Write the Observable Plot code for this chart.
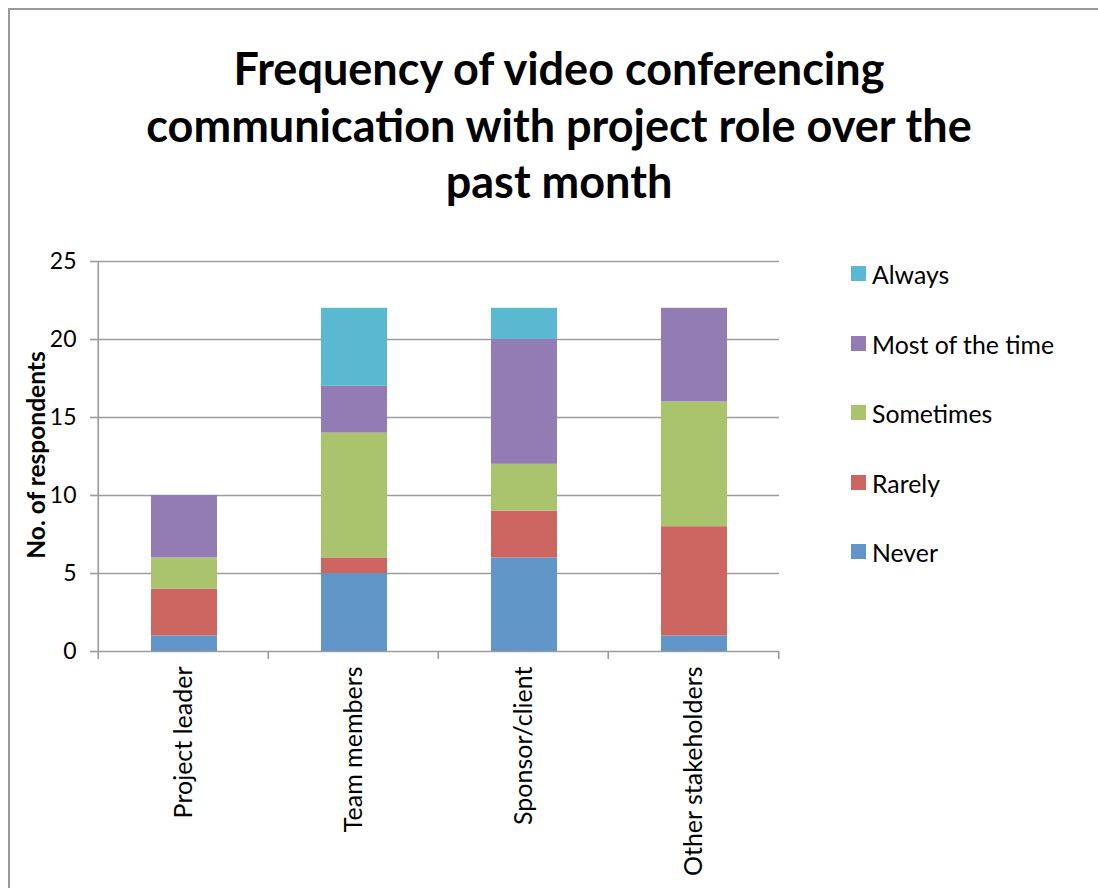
<!DOCTYPE html>
<html><head><meta charset="utf-8">
<script src="https://cdn.jsdelivr.net/npm/d3@7"></script>
<script src="https://cdn.jsdelivr.net/npm/@observablehq/plot@0.6"></script>
<style>
body{margin:0;background:#fff;font-family:Lato,"Open Sans",sans-serif;color:#000;}
#wrap{position:relative;width:1098px;height:888px;overflow:hidden;background:#fff;}
#frame{position:absolute;left:8px;top:8px;width:1200px;height:1000px;border-left:2px solid #9a9a9a;border-top:2px solid #9a9a9a;}
#title{position:absolute;left:10px;width:1098px;top:40px;text-align:center;font-weight:bold;font-size:45px;line-height:56.5px;}
#chart{position:absolute;left:0;top:230px;}
#ylabel{position:absolute;left:35px;top:455px;transform:translate(-50%,-50%) rotate(-90deg);font-weight:bold;font-size:24.5px;white-space:nowrap;}
#legend{position:absolute;left:851px;top:261px;}
.item{position:absolute;left:0;white-space:nowrap;font-size:24.8px;height:28px;line-height:28px;}
.sw{position:absolute;left:0;top:5px;width:15px;height:15px;}
.lt{position:absolute;left:21px;top:0;}
</style></head>
<body>
<div id="wrap">
  <div id="frame"></div>
  <div id="title">Frequency of video conferencing<br>communication with project role over the<br>past month</div>
  <div id="chart"></div>
  <div id="ylabel">No. of respondents</div>
  <div id="legend"></div>
</div>
<script>
const categories = ["Project leader", "Team members", "Sponsor/client", "Other stakeholders"];
const seriesNames = ["Never", "Rarely", "Sometimes", "Most of the time", "Always"];
const never     = [1, 5, 6, 1];
const rarely    = [3, 1, 3, 7];
const sometimes = [2, 8, 3, 8];
const mostTime  = [4, 3, 8, 6];
const always    = [0, 5, 2, 0];
const yTicks = [0, 5, 10, 15, 20, 25];
const colors = ["#6196c9", "#cd6560", "#a9c46c", "#937cb3", "#59b9d1"];

const seriesValues = [never, rarely, sometimes, mostTime, always];
const data = [];
categories.forEach((c, i) => {
  seriesNames.forEach((s, j) => {
    data.push({category: c, series: s, value: seriesValues[j][i]});
  });
});

const W = 1098, H = 658;
const mL = 97, mR = 319, mT = 31, mB = 237;
const step = (W - mL - mR) / categories.length;

const chart = Plot.plot({
  width: W, height: H,
  marginTop: mT, marginBottom: mB, marginLeft: mL, marginRight: mR,
  style: {fontFamily: "Lato, 'Open Sans', sans-serif", fontSize: "23px", color: "#000", background: "transparent"},
  x: {domain: categories, padding: 0, label: null},
  y: {domain: [0, 25], label: null},
  color: {domain: seriesNames, range: colors},
  marks: [
    Plot.ruleY(yTicks, {stroke: "#9c9c9c", strokeWidth: 1.6}),
    Plot.ruleX([categories[0]], {dx: -step / 2, stroke: "#9c9c9c", strokeWidth: 1.6}),
    Plot.ruleX(categories, {dx: -step / 2, y1: 0, y2: 0, insetBottom: -8, stroke: "#9c9c9c", strokeWidth: 1.6}),
    Plot.ruleX([categories[categories.length - 1]], {dx: step / 2, y1: 0, y2: 0, insetBottom: -8, stroke: "#9c9c9c", strokeWidth: 1.6}),
    Plot.barY(data, {x: "category", y: "value", fill: "series", insetLeft: 53, insetRight: 51}),
    Plot.axisY({ticks: yTicks, tickSize: 7, tickPadding: 14, stroke: "#9c9c9c", strokeWidth: 1.6, fill: "#000", label: null}),
    Plot.axisX({tickSize: 0, tickRotate: -90, tickPadding: 15, fill: "#000", label: null, fontSize: 25})
  ]
});
document.getElementById("chart").appendChild(chart);

const legend = document.getElementById("legend");
const order = seriesNames.slice().reverse();
order.forEach((s, k) => {
  const it = document.createElement("div");
  it.className = "item";
  it.style.top = (k * 69.5) + "px";
  const sw = document.createElement("div");
  sw.className = "sw";
  sw.style.background = colors[seriesNames.indexOf(s)];
  const t = document.createElement("div");
  t.className = "lt";
  t.textContent = s;
  it.appendChild(sw); it.appendChild(t);
  legend.appendChild(it);
});
</script>
</body></html>
